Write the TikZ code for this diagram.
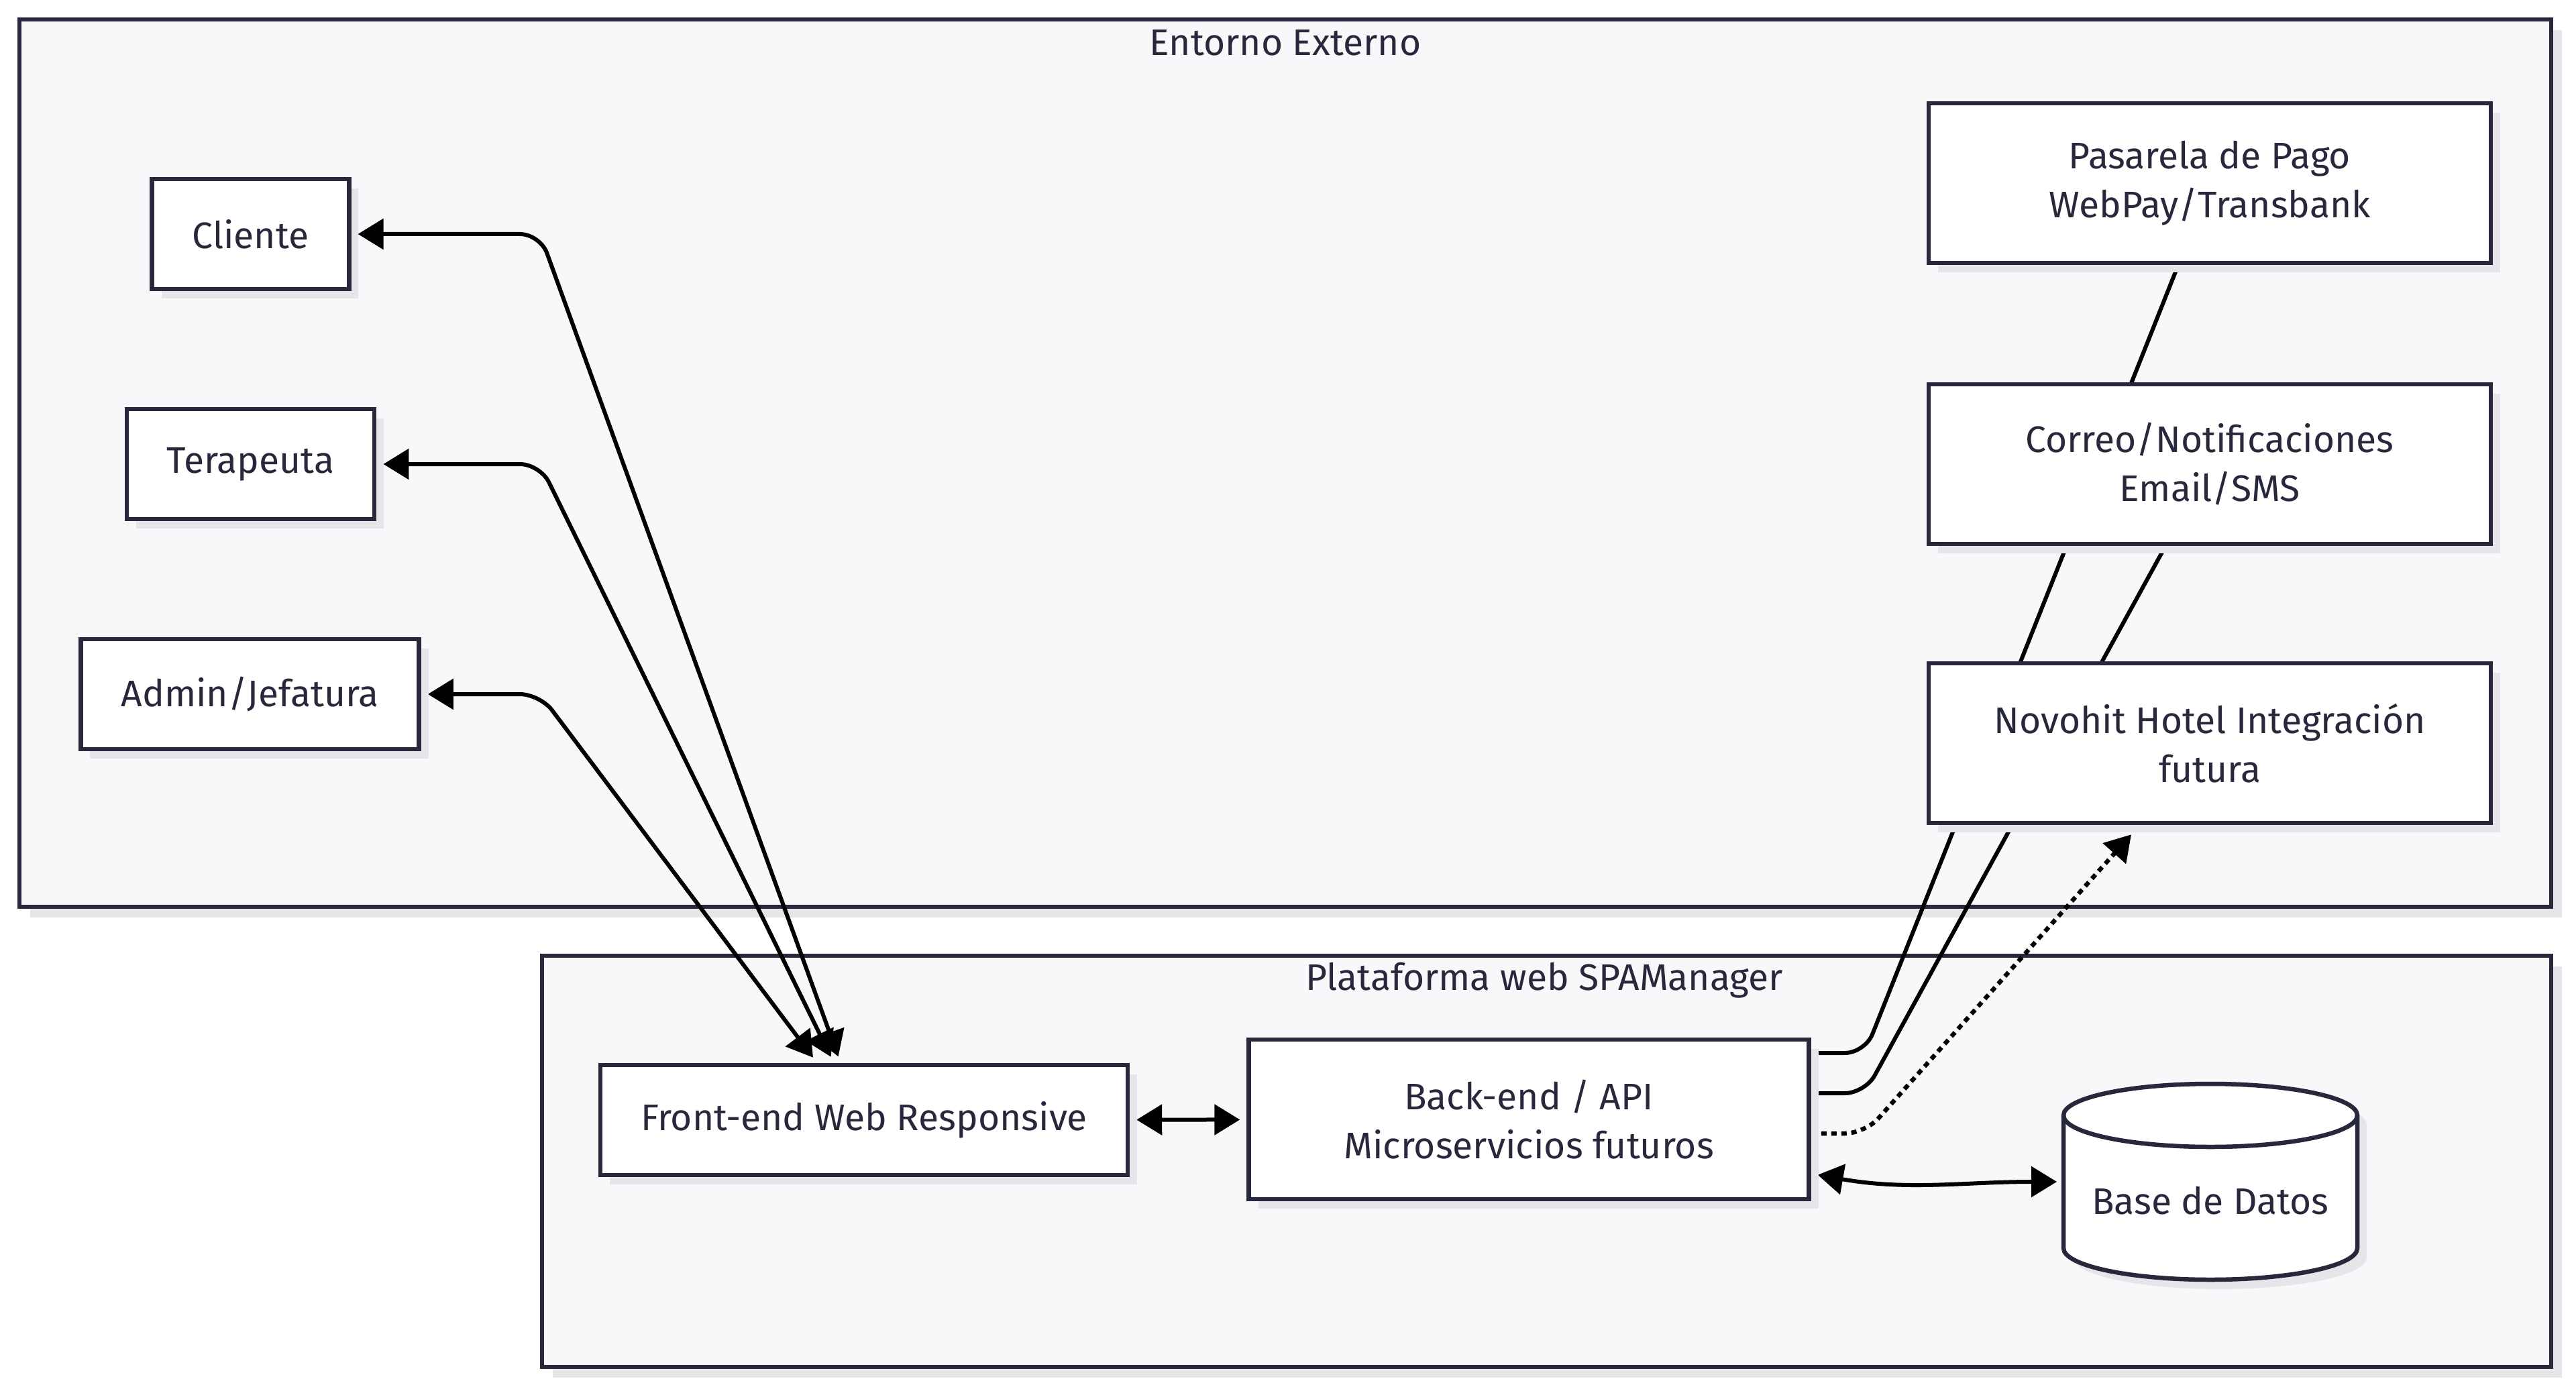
\documentclass[tikz,border=0pt]{standalone}
\usepackage{fontspec}
\setmainfont{Fira Sans}
\usetikzlibrary{arrows.meta, positioning, backgrounds, calc, shadows}

\definecolor{ink}{HTML}{28283C}
\definecolor{panel}{HTML}{F8F8FA}
\definecolor{shade}{HTML}{E6E6EA}
\newcommand{\diagfont}{\fontsize{15.7}{20.8}\selectfont}

\begin{document}
\begin{tikzpicture}[
    box/.style={rectangle, draw=ink, line width=0.065cm, fill=white, text=ink, align=center, minimum height=1.64cm, inner xsep=0.6cm, font=\diagfont, drop shadow={shadow xshift=0.14cm, shadow yshift=-0.14cm, fill=shade, opacity=1}},
    service/.style={box, minimum width=8.38cm, minimum height=2.38cm},
    cluster/.style={rectangle, draw=ink, line width=0.06cm, fill=panel, inner sep=0, drop shadow={shadow xshift=0.16cm, shadow yshift=-0.16cm, fill=shade, opacity=1}},
    title/.style={text=ink, font=\diagfont, inner sep=0},
    dbframe/.style={rectangle, inner sep=0, outer sep=0, minimum width=4.38cm, minimum height=2.92cm},
    dbshape/.style={draw=ink, line width=0.065cm, fill=white, drop shadow={shadow xshift=0.14cm, shadow yshift=-0.14cm, fill=shade, opacity=1}},
    arrow/.style={line width=0.06cm, {Triangle[length=0.38cm,width=0.45cm]}-{Triangle[length=0.38cm,width=0.45cm]}, shorten <=0.1cm, shorten >=0.1cm, rounded corners=0.3cm},
    link/.style={line width=0.06cm, rounded corners=0.3cm},
    dotarrow/.style={line width=0.065cm, dash pattern=on 0.08cm off 0.07cm, -{Triangle[length=0.38cm,width=0.45cm]}, rounded corners=0.3cm}
]
\useasboundingbox (0,0) rectangle (38.4,-20.73);

% Clusters
\begin{scope}[on background layer]
    \node[cluster, minimum width=37.74cm, minimum height=13.23cm] (externo) at (19.16,-6.905) {};
    \node[cluster, minimum width=29.95cm, minimum height=6.13cm] (plataforma) at (23.055,-17.315) {};
\end{scope}
\node[title] (externotitle) at (19.16,-0.64) {Entorno Externo};
\node[title] (plataformatitle) at (23.02,-14.62) {Plataforma web SPAManager};

% Users
\node[box] (cliente) at (3.735,-3.49) {Cliente};
\node[box] (terapeuta) at (3.735,-6.92) {Terapeuta};
\node[box] (admin) at (3.725,-10.35) {Admin/Jefatura};

% External services
\node[service] (pasarela) at (32.94,-2.73) {Pasarela de Pago\\WebPay/Transbank};
\node[service] (correo) at (32.94,-6.92) {Correo/Notificaciones\\Email/SMS};
\node[service] (novohit) at (32.94,-11.08) {Novohit Hotel Integración\\futura};

% Platform
\node[box] (frontend) at (12.88,-16.70) {Front-end Web Responsive};
\node[service, minimum width=8.35cm] (backend) at (22.79,-16.69) {Back-end / API\\Microservicios futuros};
\node[dbframe] (database) at (32.95,-17.62) {};
\draw[dbshape] ([yshift=-0.47cm]database.north west) -- ([yshift=0.47cm]database.south west)
    arc[start angle=180, end angle=360, x radius=2.19cm, y radius=0.47cm]
    -- ([yshift=-0.47cm]database.north east)
    arc[start angle=0, end angle=180, x radius=2.19cm, y radius=0.47cm] -- cycle;
\draw[draw=ink, line width=0.065cm] ([yshift=-0.47cm]database.north west)
    arc[start angle=180, end angle=360, x radius=2.19cm, y radius=0.47cm];
\node[title] (dblabel) at ([yshift=-0.28cm]database.center) {Base de Datos};

% Bend points
\coordinate (fanout) at (8.05,0);
\coordinate (backbend) at (27.8,0);

% Connections
\begin{scope}[on background layer]
    \draw[arrow] (cliente.east) -- (cliente.east -| fanout) -- ([xshift=-0.35cm]frontend.north);
    \draw[arrow] (terapeuta.east) -- (terapeuta.east -| fanout) -- ([xshift=-0.45cm]frontend.north);
    \draw[arrow] (admin.east) -- (admin.east -| fanout) -- ([xshift=-0.7cm]frontend.north);
    \draw[arrow] (frontend) -- (backend);
    \draw[link] ([yshift=0.99cm]backend.east) -- ([yshift=0.99cm]backend.east -| backbend) -- ([xshift=-0.47cm]pasarela.south);
    \draw[link] ([yshift=0.39cm]backend.east) -- ([yshift=0.39cm]backend.east -| backbend) -- ([xshift=-0.66cm]correo.south);
    \draw[dotarrow] ([yshift=-0.21cm]backend.east) -- ([yshift=-0.21cm]backend.east -| backbend) -- ([xshift=-1.17cm, yshift=-0.14cm]novohit.south);
    \draw[arrow] ([yshift=-0.81cm]backend.east) to[out=-10, in=180] (database.west);
\end{scope}

\end{tikzpicture}
\end{document}
